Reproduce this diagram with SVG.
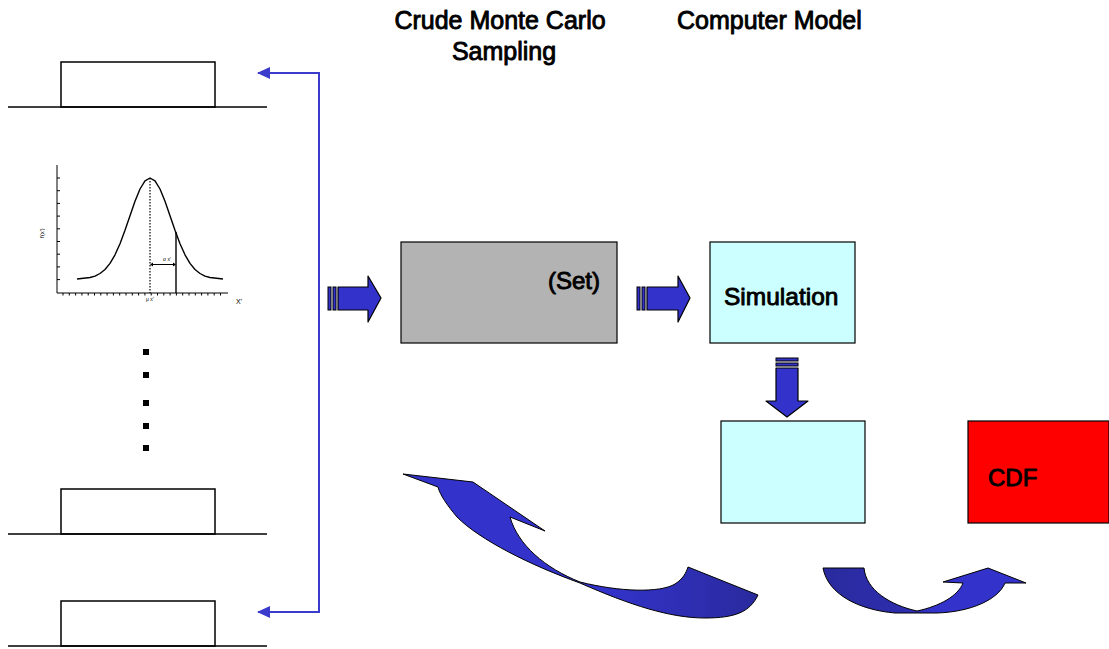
<svg xmlns="http://www.w3.org/2000/svg" width="1109" height="649" viewBox="0 0 1109 649">
<style>
.t{font-family:"Liberation Sans",Arial,sans-serif;fill:#000;stroke:#000;stroke-width:0.9;stroke-linejoin:round}
.dist{fill:#fff;stroke:#000;stroke-width:1.5}
.base{stroke:#000;stroke-width:1.5;fill:none}
.blk{fill:#3333cc;stroke:#000;stroke-width:1.2;stroke-linejoin:round}
.conn{fill:none;stroke:#3b3bcc;stroke-width:2}
.box{stroke:#000;stroke-width:1.2}
.ax{stroke:#000;stroke-width:1;fill:none}
</style>
<defs>
<marker id="ah" viewBox="0 0 13 12" refX="12" refY="6" markerWidth="13" markerHeight="12" markerUnits="userSpaceOnUse" orient="auto-start-reverse">
<path d="M0,0 L13,6 L0,12 Z" fill="#3b3bcc"/>
</marker>
<linearGradient id="g1" x1="0" y1="0" x2="1" y2="0">
<stop offset="0" stop-color="#3333cc"/><stop offset="0.55" stop-color="#3333cc"/><stop offset="1" stop-color="#2a2a9e"/>
</linearGradient>
<linearGradient id="g2" x1="0" y1="0" x2="1" y2="0">
<stop offset="0" stop-color="#2a2a9e"/><stop offset="0.45" stop-color="#2e2eb0"/><stop offset="0.55" stop-color="#3333cc"/><stop offset="1" stop-color="#3333cc"/>
</linearGradient>
</defs>

<g id="titles">
<text class="t" x="500" y="29" font-size="25" text-anchor="middle">Crude Monte Carlo</text>
<text class="t" x="504" y="60" font-size="25" text-anchor="middle">Sampling</text>
<text class="t" x="677" y="29" font-size="25">Computer Model</text>
</g>

<g id="dist-top">
<rect class="dist" x="61" y="62" width="154" height="45"/>
<line class="base" x1="8" y1="107" x2="267" y2="107"/>
</g>

<g id="dist-normal">
<line class="ax" x1="57" y1="165" x2="57" y2="293"/>
<line class="ax" x1="57" y1="293" x2="228" y2="293"/>
<path class="ax" d="M57,178h3M57,190.7h3M57,203.4h3M57,216.1h3M57,228.8h3M57,241.5h3M57,254.2h3M57,266.9h3M57,279.6h3"/>
<path class="ax" stroke-width="0.8" d="M63,293v2.5M69.3,293v2.5M75.6,293v2.5M81.9,293v2.5M88.2,293v2.5M94.5,293v2.5M100.8,293v2.5M107.1,293v2.5M113.4,293v2.5M119.7,293v2.5M126,293v2.5M132.3,293v2.5M138.6,293v2.5M144.9,293v2.5M151.2,293v2.5M157.5,293v2.5M163.8,293v2.5M170.1,293v2.5M176.4,293v2.5M182.7,293v2.5M189,293v2.5M195.3,293v2.5M201.6,293v2.5M207.9,293v2.5M214.2,293v2.5M220.5,293v2.5"/>
<polyline fill="none" stroke="#000" stroke-width="1.4" stroke-linejoin="round" points="77,279 90,277.5 95,276.1 100,273.5 105,269.5 110,263.4 115,254.8 120,243.7 125,230.3 130,215.7 135,201.3 140,189 145,180.9 150,178 155,180.9 160,189 165,201.3 170,215.7 175,230.3 180,243.7 185,254.8 190,263.4 195,269.5 200,273.5 205,276.1 210,277.5 223,279"/>
<line x1="150" y1="178" x2="150" y2="293" stroke="#000" stroke-width="1.2" stroke-dasharray="1.5,1.5"/>
<line x1="176" y1="232" x2="176" y2="293" stroke="#000" stroke-width="1.4"/>
<line x1="151" y1="264.5" x2="175" y2="264.5" stroke="#000" stroke-width="1"/>
<path d="M150,264.5 l3,-2 v4 Z M176,264.5 l-3,-2 v4 Z" fill="#000"/>
<text x="163" y="261" font-family="Liberation Sans,Arial,sans-serif" font-size="5">σ x'</text>
<text x="146" y="301" font-family="Liberation Sans,Arial,sans-serif" font-size="5">μ x'</text>
<text x="236" y="304" font-family="Liberation Sans,Arial,sans-serif" font-size="7">X'</text>
<text transform="translate(44,238) rotate(-90)" font-family="Liberation Sans,Arial,sans-serif" font-size="6">f(x')</text>
</g>

<g id="dots" fill="#000">
<rect x="143" y="349" width="6" height="6"/>
<rect x="143" y="372" width="6" height="6"/>
<rect x="143" y="400" width="6" height="6"/>
<rect x="143" y="423" width="6" height="6"/>
<rect x="143" y="445" width="6" height="6"/>
</g>

<g id="dist-mid">
<rect class="dist" x="61" y="489" width="154" height="45"/>
<line class="base" x1="8" y1="534" x2="267" y2="534"/>
</g>

<g id="dist-bottom">
<rect class="dist" x="61" y="601" width="154" height="45"/>
<line class="base" x1="8" y1="646" x2="267" y2="646"/>
</g>

<g id="sampling">
<rect class="box" x="401" y="242" width="216" height="101" fill="#b3b3b3"/>
<text class="t" x="548" y="289" font-size="24">(Set)</text>
</g>

<g id="simulation">
<rect class="box" x="710" y="242" width="145" height="101" fill="#ccffff"/>
<text class="t" x="724" y="305" font-size="24.5">Simulation</text>
</g>

<g id="output">
<rect class="box" x="721" y="421" width="144" height="102" fill="#ccffff"/>
</g>

<g id="cdf">
<rect class="box" x="968" y="421" width="141" height="102" fill="#ff0000"/>
<text class="t" x="988" y="486" font-size="24">CDF</text>
</g>

<g id="connectors">
<polyline class="conn" points="258,73 319,73 319,612 258,612" marker-start="url(#ah)" marker-end="url(#ah)"/>
<g id="arrow1">
<path class="blk" d="M338,287 H368 V276 L381,298 L368,322 V310 H338 Z"/>
<rect x="328" y="287" width="3" height="23" fill="#3333cc" stroke="#000" stroke-width="1"/>
<rect x="333" y="287" width="3" height="23" fill="#3333cc" stroke="#000" stroke-width="1"/>
</g>
<g id="arrow2">
<path class="blk" d="M647,287 H678 V276 L690,298 L678,322 V310 H647 Z"/>
<rect x="637" y="287" width="3" height="23" fill="#3333cc" stroke="#000" stroke-width="1"/>
<rect x="642" y="287" width="3" height="23" fill="#3333cc" stroke="#000" stroke-width="1"/>
</g>
<g id="arrow3">
<path class="blk" d="M776,368 V401 H766 L787,417 L808,401 H798 V368 Z"/>
<rect x="776" y="358" width="22" height="3" fill="#3333cc" stroke="#000" stroke-width="1"/>
<rect x="776" y="363" width="22" height="3" fill="#3333cc" stroke="#000" stroke-width="1"/>
</g>
<path id="curve-back" fill="url(#g1)" stroke="#000" stroke-width="1" stroke-linejoin="round" d="M403,474 L473,482 L545,531 L510,517 C518,545 545,568 580,582 C620,592 660,593 675,584 C683,579 686,573 688,567 L758,595 C750,612 735,618 705,618 C670,618 630,605 580,583 C530,565 480,540 457,517 C447,505 440,495 438,487 Z"/>
<path id="curve-cdf" fill="url(#g2)" stroke="#000" stroke-width="1" stroke-linejoin="round" d="M823,568 L864,568 C866,590 890,605 917,611 C940,606 958,596 963,583 L943,582 L988,568 L1026,583 L1005,583 C998,600 970,612 937,613 L895,613 C860,610 828,595 823,568 Z"/>
</g>
</svg>
